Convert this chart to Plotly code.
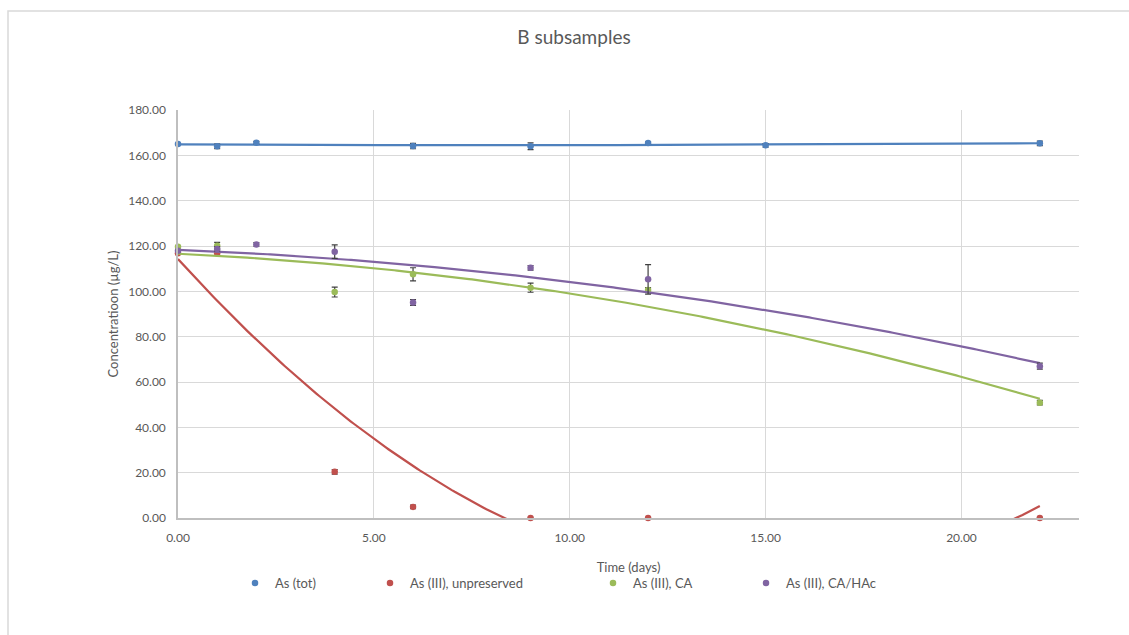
import numpy as np
import plotly.graph_objects as go

# Sampling days and measured concentrations (µg/L) with standard deviations
days_tot = [0, 1, 2, 6, 9, 12, 15, 22]
as_tot = [165.0, 164.0, 165.6, 164.1, 164.0, 165.4, 164.4, 165.3]
as_tot_err = [0, 1.0, 0.6, 1.2, 1.5, 0.6, 0.8, 1.0]

days_unpres = [0, 1, 4, 6, 9, 12, 22]
as3_unpres = [116.8, 116.8, 20.4, 4.9, 0.0, 0.0, 0.0]
as3_unpres_err = [0, 1.0, 1.0, 0.8, 0, 0, 0]

days_ca = [0, 1, 4, 6, 9, 12, 22]
as3_ca = [119.7, 120.1, 99.7, 107.5, 101.6, 100.6, 50.9]
as3_ca_err = [0, 1.5, 2.2, 2.9, 2.0, 1.0, 1.0]

days_cahac = [0, 1, 2, 4, 6, 9, 12, 22]
as3_cahac = [117.9, 118.7, 120.7, 117.5, 95.1, 110.4, 105.3, 67.0]
as3_cahac_err = [0, 1.0, 0.8, 3.0, 1.3, 1.0, 6.5, 1.3]

series_names = ["As (tot)", "As (III), unpreserved", "As (III), CA", "As (III), CA/HAc"]
series_colors = ["#4F81BD", "#C0504D", "#9BBB59", "#8064A2"]

x_ticks = [0, 5, 10, 15, 20]
y_ticks = [0, 20, 40, 60, 80, 100, 120, 140, 160, 180]

TEXT = "#595959"
GRID = "#D9D9D9"
FONT = "Lato"

# plot-area geometry in pixels
W, H = 1129, 635
ML, MR, MT, MB = 178, 50, 110, 117
PW, PH = W - ML - MR, H - MT - MB


def px_to_paper_x(px):
    return (px - ML) / PW


def px_to_paper_y(py):
    return (H - MB - py) / PH


fig = go.Figure()

datasets = [
    (days_tot, as_tot, as_tot_err),
    (days_unpres, as3_unpres, as3_unpres_err),
    (days_ca, as3_ca, as3_ca_err),
    (days_cahac, as3_cahac, as3_cahac_err),
]
legend_ids = ["legend", "legend2", "legend3", "legend4"]

for (xs, ys, errs), name, color, lg in zip(datasets, series_names, series_colors, legend_ids):
    # second-order polynomial trendline over the sampled range
    coef = np.polyfit(xs, ys, 2)
    xt = np.linspace(min(xs), max(xs), 300)
    yt = np.polyval(coef, xt)
    fig.add_trace(go.Scatter(
        x=xt, y=yt, mode="lines", line=dict(color=color, width=2.2),
        showlegend=False, hoverinfo="skip", cliponaxis=True,
    ))
    fig.add_trace(go.Scatter(
        x=xs, y=ys, mode="markers", name=name, legend=lg,
        marker=dict(color=color, size=6.5),
        error_y=dict(type="data", array=errs, color="#404040", thickness=1.2, width=3),
        cliponaxis=False,
    ))

legend_text_starts = [277, 412, 635, 788]
legend_common = dict(
    orientation="h", yanchor="middle", xanchor="left",
    font=dict(family=FONT, size=13, color=TEXT), bgcolor="rgba(0,0,0,0)",
    itemwidth=30,
)
layout_legends = {}
for lg, tx in zip(legend_ids, legend_text_starts):
    layout_legends[lg] = dict(legend_common, x=px_to_paper_x(tx - 42), y=px_to_paper_y(583))

fig.update_layout(
    width=W, height=H,
    margin=dict(l=ML, r=MR, t=MT, b=MB),
    paper_bgcolor="white", plot_bgcolor="white",
    font=dict(family=FONT, color=TEXT),
    title=dict(text="B subsamples", x=574 / W, xanchor="center", xref="container",
               y=1 - 37 / H, yanchor="middle", yref="container",
               font=dict(family=FONT, size=19, color=TEXT)),
    xaxis=dict(
        range=[0, 23], tickvals=x_ticks, tickformat=".2f",
        showgrid=True, gridcolor=GRID, gridwidth=1.3,
        showline=True, linecolor="#BFBFBF", linewidth=1.5,
        zeroline=False, ticks="", ticklabelstandoff=8,
        tickfont=dict(family=FONT, size=12, color=TEXT),
        title=dict(text="Time (days)", font=dict(family=FONT, size=13, color=TEXT), standoff=19),
    ),
    yaxis=dict(
        range=[0, 180], tickvals=y_ticks, tickformat=".2f",
        showgrid=True, gridcolor=GRID, gridwidth=1.3,
        showline=True, linecolor="#BFBFBF", linewidth=1.5,
        zeroline=False, ticks="", ticklabelstandoff=8,
        tickfont=dict(family=FONT, size=12, color=TEXT),
        title=dict(text="Concentratioon (µg/L)", font=dict(family=FONT, size=13, color=TEXT), standoff=7),
    ),
    shapes=[dict(
        type="rect", xref="paper", yref="paper", layer="below",
        x0=px_to_paper_x(8), x1=px_to_paper_x(1145),
        y0=px_to_paper_y(650), y1=px_to_paper_y(11),
        line=dict(color=GRID, width=1.5), fillcolor="rgba(0,0,0,0)",
    )],
    **layout_legends,
)

fig.write_html("out.html")
